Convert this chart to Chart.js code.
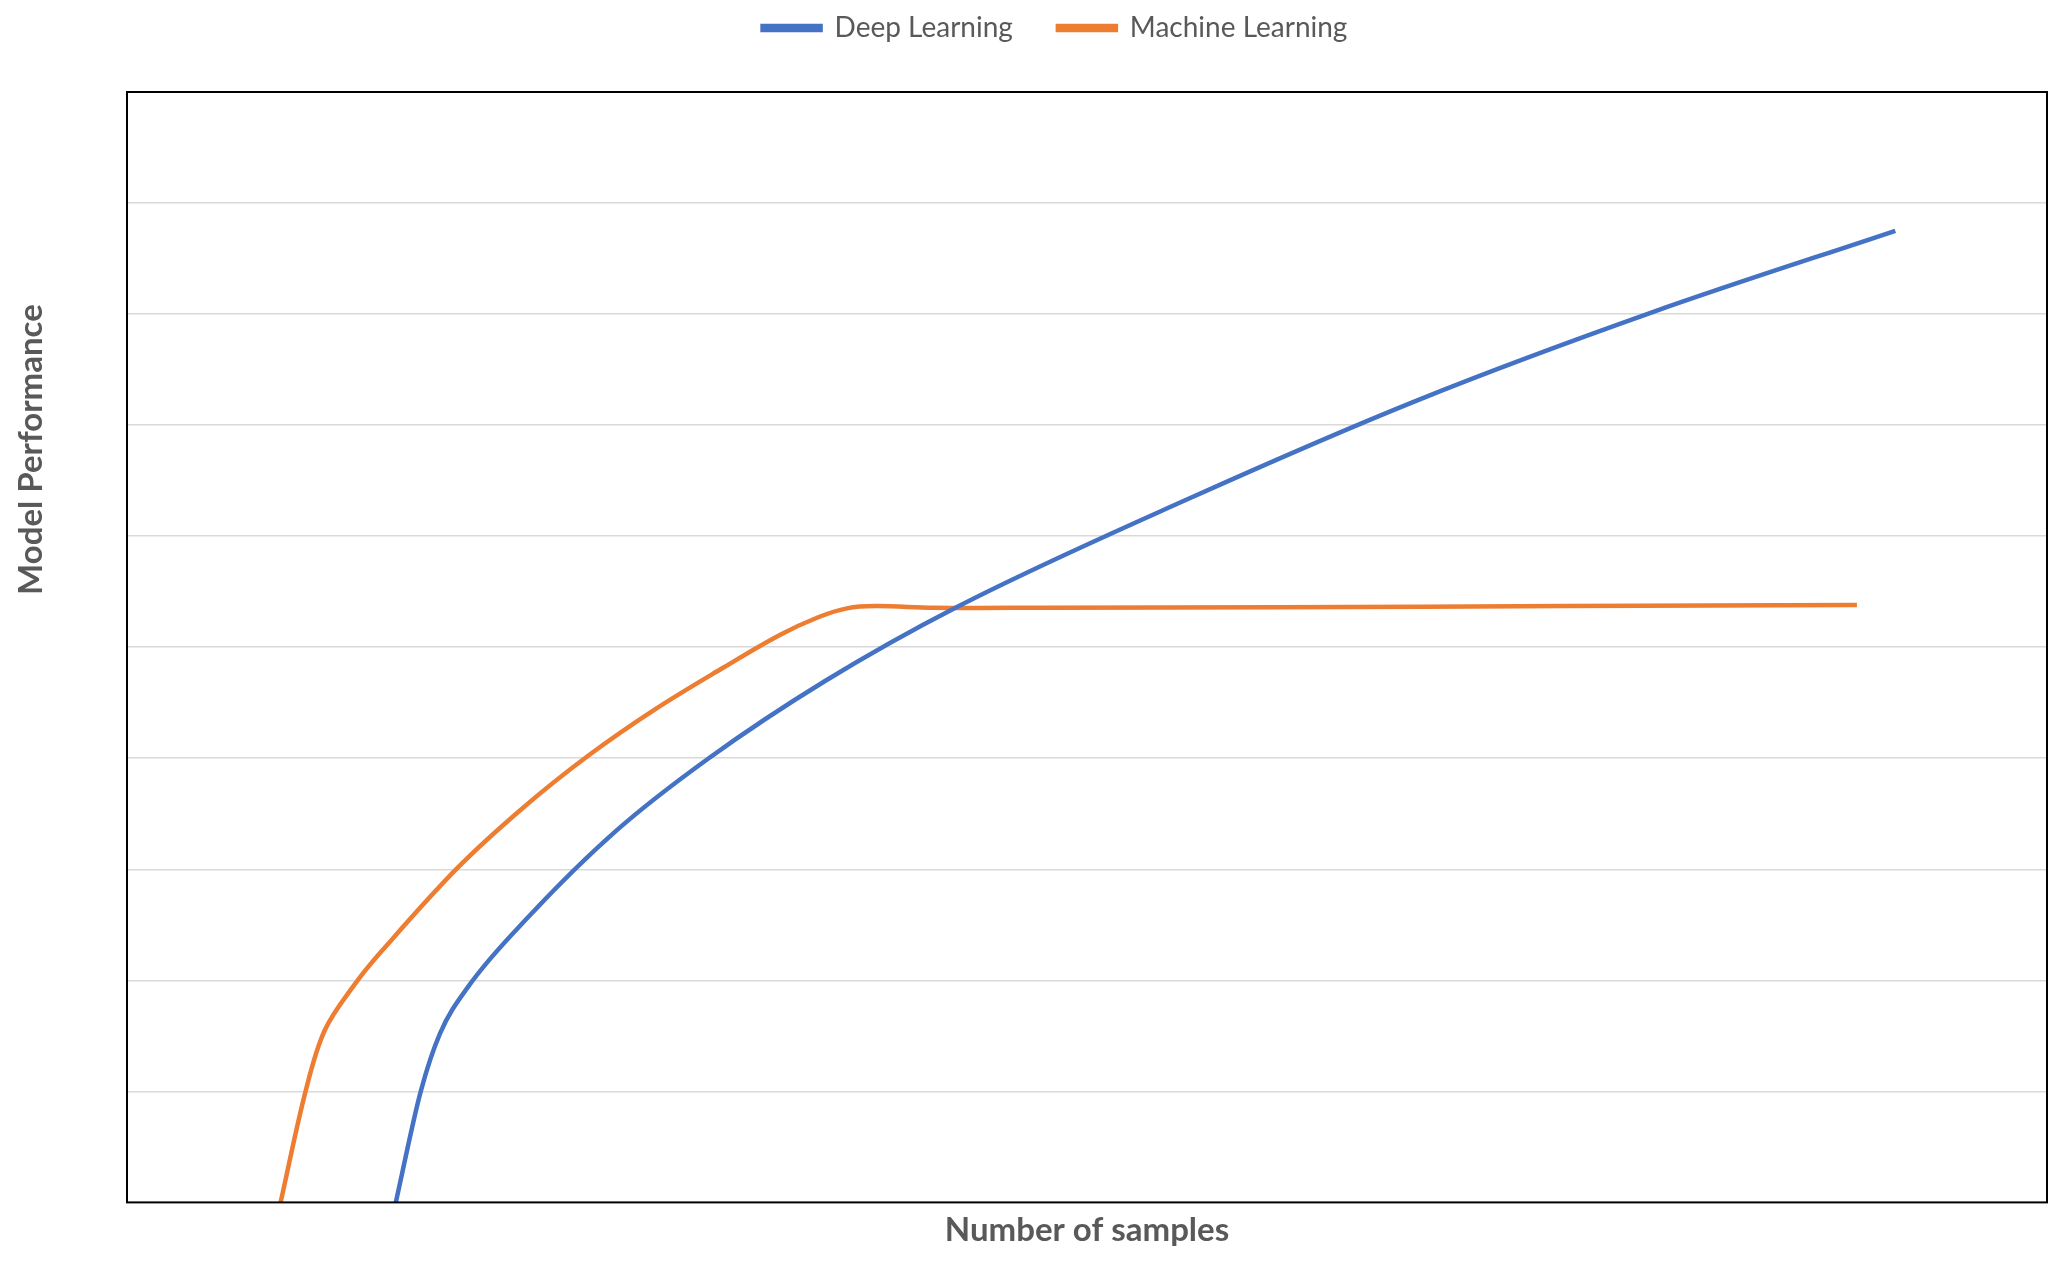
<!DOCTYPE html>
<html>
<head>
<meta charset="utf-8">
<script src="https://cdn.jsdelivr.net/npm/chart.js@4.4.1/dist/chart.umd.min.js"></script>
<style>
  html, body { margin: 0; padding: 0; background: #fff; }
  #wrap { width: 2067px; height: 1265px; position: relative; }
</style>
</head>
<body>
<div id="wrap"><canvas id="c1"></canvas></div>
<script>
// ── data (x: samples, y: performance, both unitless) ──
const dlX = [14.0, 15.3, 16.3, 17.8, 20.9, 25.5, 30.3, 36.4, 43.2, 55.2, 67.3, 79.5, 92.1];
const dlY = [0, 1.0, 1.52, 1.95, 2.57, 3.35, 4.0, 4.70, 5.36, 6.33, 7.23, 8.02, 8.75];
const mlX = [8.0, 9.3, 10.3, 11.8, 13.3, 17.2, 20.6, 24.0, 27.5, 31.0, 34.0, 36.0, 37.5, 39.0, 42.0, 48.0, 60, 75, 90.1];
const mlY = [0, 1.0, 1.55, 1.95, 2.27, 3.01, 3.55, 4.02, 4.44, 4.81, 5.11, 5.27, 5.35, 5.37, 5.355, 5.355, 5.36, 5.37, 5.38];

const C = { blue: '#4472C4', orange: '#ED7D31', text: '#595959', grid: '#D9D9D9' };
const FONT = 'Lato, "Open Sans", sans-serif';

const pts = (xs, ys) => xs.map((x, i) => ({ x, y: ys[i] }));
const lineDs = (label, data, color, mode) => ({
  label, data, borderColor: color, backgroundColor: color,
  borderWidth: 4.5, pointRadius: 0, showLine: true,
  cubicInterpolationMode: mode, tension: 0.35
});

// black frame round the plot area
const frame = {
  id: 'frame',
  afterDatasetsDraw(chart) {
    const { ctx, chartArea: a } = chart;
    ctx.save();
    ctx.strokeStyle = '#000';
    ctx.lineWidth = 2;
    ctx.strokeRect(a.left, a.top, a.right - a.left, a.bottom - a.top);
    ctx.restore();
  }
};

// y title sits above the middle in the original, so draw it by hand
const yTitle = {
  id: 'yTitle',
  afterDraw(chart) {
    const { ctx, chartArea: a } = chart;
    ctx.save();
    ctx.translate(31, a.top + (a.bottom - a.top) * 0.322);
    ctx.rotate(-Math.PI / 2);
    ctx.font = `bold 33px ${FONT}`;
    ctx.fillStyle = C.text;
    ctx.textAlign = 'center';
    ctx.textBaseline = 'middle';
    ctx.fillText('Model Performance', 0, 0);
    ctx.restore();
  }
};

// fixed legend block height, so the plot starts where it does in the original
const legendGap = {
  id: 'legendGap',
  beforeInit(chart) {
    const fit = chart.legend.fit;
    chart.legend.fit = function () { fit.bind(chart.legend)(); this.height = 123; };
  }
};

new Chart(document.getElementById('c1'), {
  type: 'scatter',
  data: {
    datasets: [
      lineDs('Deep Learning', pts(dlX, dlY), C.blue, 'monotone'),
      lineDs('Machine Learning', pts(mlX, mlY), C.orange, 'default')
    ]
  },
  options: {
    responsive: true, maintainAspectRatio: false, animation: false,
    layout: { padding: { left: 63, right: 20, top: -31, bottom: 15 } },
    plugins: {
      legend: {
        display: true, position: 'top',
        labels: { color: C.text, font: { family: FONT, size: 28 }, boxWidth: 58, boxHeight: 4, padding: 45 }
      },
      tooltip: { enabled: false }
    },
    scales: {
      x: {
        type: 'linear', min: 0, max: 100,
        ticks: { display: false },
        grid: { display: false, drawTicks: false },
        border: { display: false },
        title: { display: true, text: 'Number of samples', color: C.text, font: { family: FONT, size: 33, weight: 'bold' }, padding: { top: 8, bottom: 0 } }
      },
      y: {
        min: 0, max: 10,
        ticks: { display: false, stepSize: 1 },
        grid: { color: ctx => (ctx.tick.value === 0 || ctx.tick.value === 10) ? 'transparent' : C.grid, lineWidth: 1.5, drawTicks: false },
        border: { display: false },
        afterFit: s => { s.width = 64; }
      }
    }
  },
  plugins: [frame, yTitle, legendGap]
});
</script>
</body>
</html>
